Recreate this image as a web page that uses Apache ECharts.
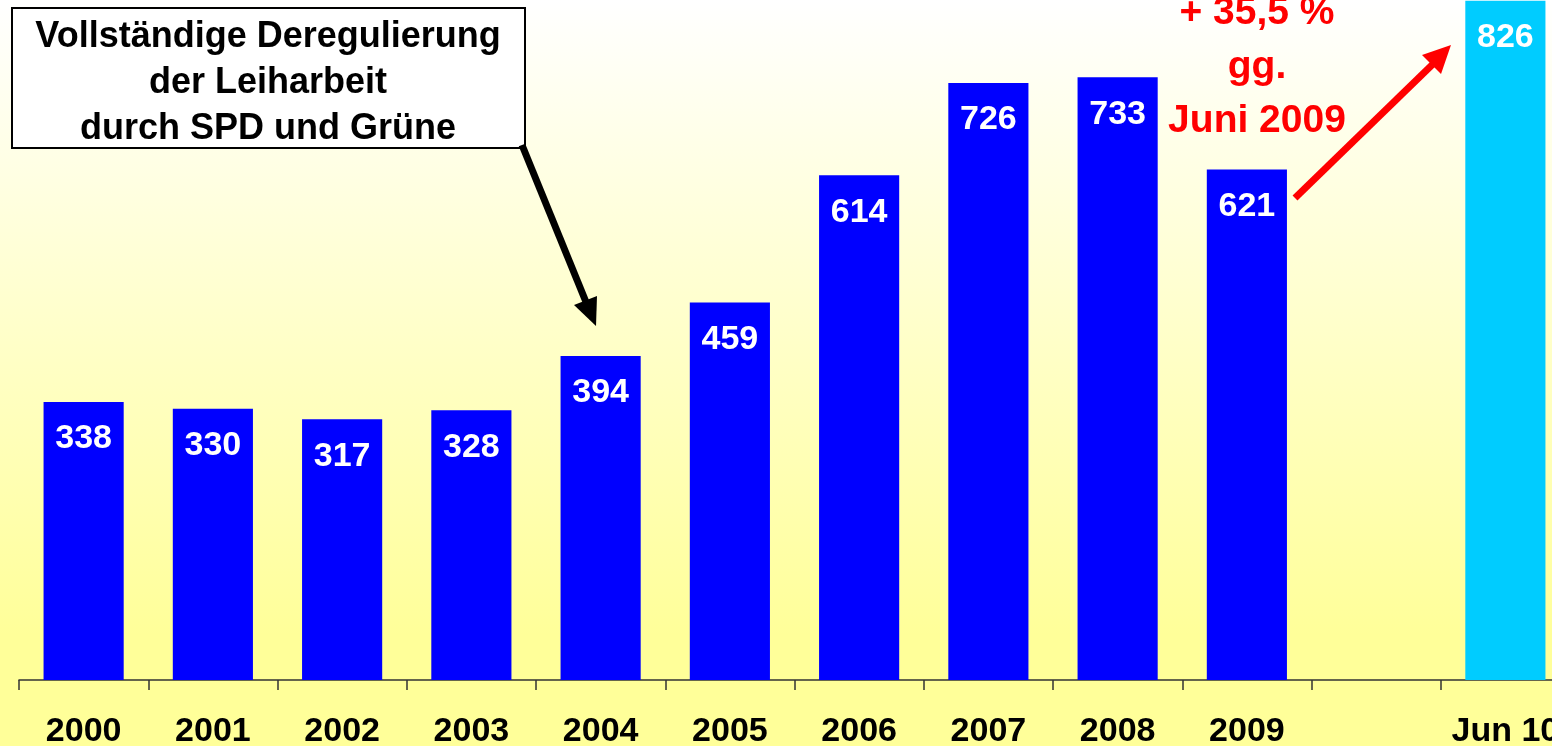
<!DOCTYPE html>
<html>
<head>
<meta charset="utf-8">
<script src="https://cdn.jsdelivr.net/npm/echarts@6/dist/echarts.min.js"></script>
<style>
    * { margin: 0; padding: 0; }
    html, body { width: 1552px; height: 746px; overflow: hidden; }
    #chart { width: 1552px; height: 746px; }
</style>
</head>
<body>
<div id="chart"></div>
<script>
    // Leiharbeit in Tausend
    var categories = ['2000', '2001', '2002', '2003', '2004', '2005', '2006', '2007', '2008', '2009', '', 'Jun 10'];
    var values = [338, 330, 317, 328, 394, 459, 614, 726, 733, 621, null, 826];
    var boxLines = ['Vollständige Deregulierung', 'der Leiharbeit', 'durch SPD und Grüne'];
    var redLines = ['+ 35,5 %', 'gg.', 'Juni 2009'];

    var font = '"Liberation Sans", Arial, sans-serif';
    var chart = echarts.init(document.getElementById('chart'));

    chart.setOption({
        animation: false,
        backgroundColor: {
            type: 'linear', x: 0, y: 0, x2: 0, y2: 1,
            colorStops: [
                { offset: 0, color: '#FFFFFF' },
                { offset: 0.85, color: '#FFFF99' },
                { offset: 1, color: '#FFFF99' }
            ]
        },
        grid: { left: 19, top: 0, width: 1551, bottom: 66, outerBoundsMode: 'none', containLabel: false },
        xAxis: {
            type: 'category',
            data: categories,
            axisLine: { lineStyle: { color: '#333', width: 1.5 } },
            axisTick: { show: true, length: 10, lineStyle: { color: '#333', width: 1.5 } },
            axisLabel: {
                color: '#000',
                fontFamily: font,
                fontWeight: 'bold',
                fontSize: 34,
                margin: 35,
                interval: 0
            }
        },
        yAxis: {
            type: 'value',
            min: 0,
            max: 827,
            show: false,
            splitLine: { show: false }
        },
        series: [{
            type: 'bar',
            data: values,
            barWidth: '62%',
            itemStyle: {
                color: function (p) {
                    return p.name === 'Jun 10' ? '#00CCFF' : '#0000FF';
                }
            },
            label: {
                show: true,
                position: 'insideTop',
                distance: 20,
                color: '#FFFFFF',
                fontFamily: font,
                fontWeight: 'bold',
                fontSize: 34
            }
        }],
        graphic: [
            // Kasten oben links
            {
                type: 'rect',
                shape: { x: 12, y: 8, width: 513, height: 140 },
                style: { fill: '#FFFFFF', stroke: '#000', lineWidth: 2 },
                z: 10
            },
            {
                type: 'text',
                x: 268, y: 83,
                style: {
                    text: boxLines.join('\n'),
                    fill: '#000',
                    font: 'bold 36px ' + font,
                    lineHeight: 46,
                    align: 'center',
                    verticalAlign: 'middle'
                },
                z: 11
            },
            // schwarzer Pfeil
            {
                type: 'line',
                shape: { x1: 522, y1: 145, x2: 586, y2: 302 },
                style: { stroke: '#000', lineWidth: 7 },
                z: 10
            },
            {
                type: 'polygon',
                shape: { points: [[596, 326], [574, 305], [597, 296]] },
                style: { fill: '#000' },
                z: 10
            },
            // rote Angabe
            {
                type: 'text',
                x: 1257, y: 67,
                style: {
                    text: redLines.join('\n'),
                    fill: '#FF0000',
                    font: 'bold 39px ' + font,
                    lineHeight: 54,
                    align: 'center',
                    verticalAlign: 'middle'
                },
                z: 10
            },
            // roter Pfeil
            {
                type: 'line',
                shape: { x1: 1295, y1: 198, x2: 1433, y2: 64 },
                style: { stroke: '#FF0000', lineWidth: 7 },
                z: 10
            },
            {
                type: 'polygon',
                shape: { points: [[1451, 45], [1441, 74], [1422, 55]] },
                style: { fill: '#FF0000' },
                z: 10
            }
        ]
    });
</script>
</body>
</html>
